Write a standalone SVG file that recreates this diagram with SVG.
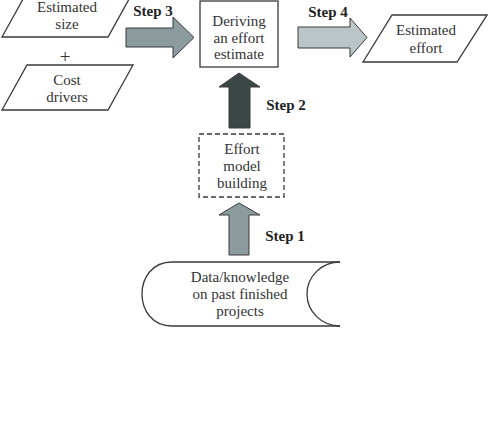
<svg xmlns="http://www.w3.org/2000/svg" width="488" height="435" viewBox="0 0 488 435">
<style>
.shape{fill:#fff;stroke:#3a3a3a;stroke-width:1.3}
.t{font-family:"Liberation Serif","Times New Roman",serif;font-size:15px;fill:#333;text-anchor:middle}
.step{font-family:"Liberation Serif","Times New Roman",serif;font-size:15px;font-weight:bold;fill:#222;text-anchor:middle}
.arrow{stroke:#3a3a3a;stroke-width:1}
</style>
<rect width="488" height="435" fill="#fff"/>
<g id="estimated-size">
<polygon class="shape" points="27,-8 133,-8 108,37 2,37"/>
<text class="t" x="67" y="12">Estimated</text>
<text class="t" x="67" y="29">size</text>
</g>
<g id="plus"><text class="t" x="65" y="63" style="font-size:19px">+</text></g>
<g id="cost-drivers">
<polygon class="shape" points="27,65 133,65 108,110 2,110"/>
<text class="t" x="67" y="85">Cost</text>
<text class="t" x="67" y="102">drivers</text>
</g>
<g id="deriving">
<rect class="shape" x="200" y="1" width="78" height="66"/>
<text class="t" x="239" y="26">Deriving</text>
<text class="t" x="239" y="43">an effort</text>
<text class="t" x="239" y="59">estimate</text>
</g>
<g id="estimated-effort">
<polygon class="shape" points="392,15 487,15 457,62 363,62"/>
<text class="t" x="426" y="35">Estimated</text>
<text class="t" x="426" y="53">effort</text>
</g>
<g id="effort-model">
<rect class="shape" x="199" y="134" width="85" height="63" stroke-dasharray="5,3"/>
<text class="t" x="242" y="154">Effort</text>
<text class="t" x="242" y="171">model</text>
<text class="t" x="242" y="188">building</text>
</g>
<g id="data">
<path d="M340,262 L172,262 C152,262 142,278 142,294 C142,310 152,326 172,326 L340,326 A33,32 0 0 1 340,262 Z" fill="#fff" stroke="none"/>
<path d="M340,262 L172,262 C152,262 142,278 142,294 C142,310 152,326 172,326 L340,326" fill="none" stroke="#3a3a3a" stroke-width="1.3"/>
<path d="M340,262 A33,32 0 0 0 340,326" fill="none" stroke="#3a3a3a" stroke-width="1.3"/>
<text class="t" x="240" y="282">Data/knowledge</text>
<text class="t" x="240" y="299">on past finished</text>
<text class="t" x="240" y="316">projects</text>
</g>
<g id="connectors">
<polygon class="arrow" fill="#8c9b9e" points="126,28 173,28 173,17 194,37.5 173,58 173,47 126,47"/>
<polygon class="arrow" fill="#bac5c7" points="298,27 350,27 350,18 367,37.5 350,57 350,48 298,48"/>
<polygon class="arrow" fill="#3b4647" points="229,128 229,87 219,87 239,73 260,87 250,87 250,128"/>
<polygon class="arrow" fill="#8c9b9e" points="229,255 229,215 219,215 239,203 260,215 249,215 249,255"/>
<text class="step" x="153" y="16">Step 3</text>
<text class="step" x="328" y="17">Step 4</text>
<text class="step" x="286" y="110">Step 2</text>
<text class="step" x="285" y="241">Step 1</text>
</g>
</svg>
